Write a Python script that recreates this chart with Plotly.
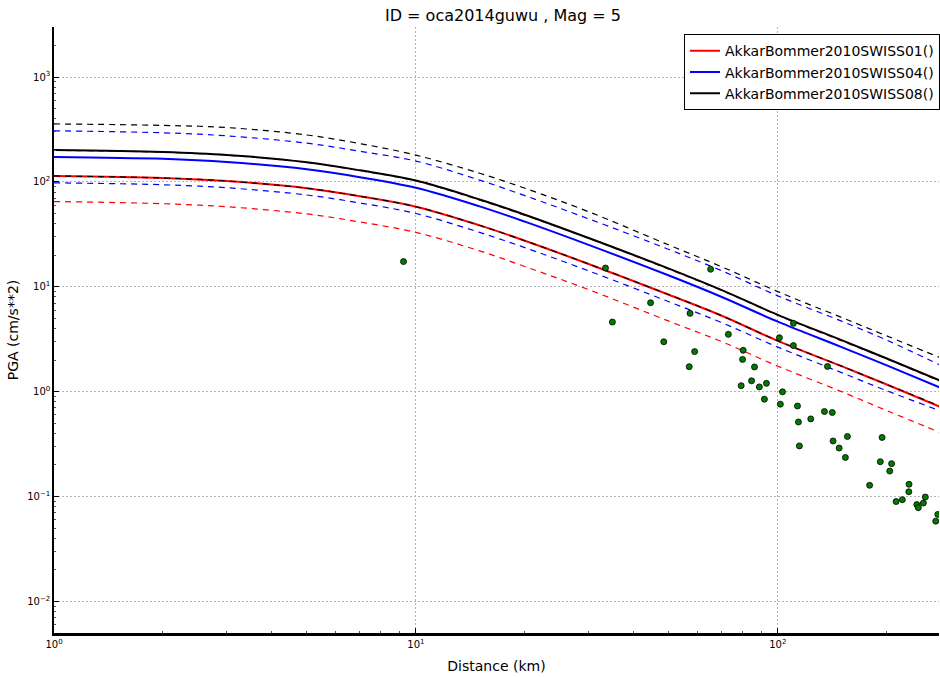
import plotly.graph_objects as go
import math

# ---- data ----
distance_km = [1, 2, 3, 5, 7, 10, 15, 20, 30, 50, 70, 100, 150, 200, 280]

swiss01_median = [114, 109, 102, 87, 73, 58, 38.5, 27.5, 16.5, 8.4, 5.3, 3.05, 1.75, 1.17, 0.72]
swiss01_minus = [65, 62, 58, 49.5, 41.5, 33, 22, 15.6, 9.4, 4.7, 3.0, 1.75, 1.0, 0.66, 0.41]
swiss01_plus = [200, 192, 180, 153, 128, 102, 67, 48, 29, 14.7, 9.2, 5.35, 3.05, 2.05, 1.26]

swiss04_median = [173, 166, 155, 132, 111, 88, 58.5, 41.8, 25.1, 12.8, 8.0, 4.65, 2.66, 1.78, 1.1]
swiss04_minus = [98, 94, 88, 75, 63, 50, 33, 23.6, 14.2, 7.2, 4.55, 2.66, 1.52, 1.02, 0.66]
swiss04_plus = [307, 294, 275, 234, 196, 158, 104, 74, 44.5, 22.7, 14.2, 8.2, 4.7, 3.1, 1.8]

swiss08_median = [202, 193, 181, 154, 129, 103, 68, 48.7, 29.2, 14.9, 9.3, 5.4, 3.1, 2.07, 1.28]
swiss08_minus = [114, 109, 102, 87, 73, 58, 38.5, 27.5, 16.5, 8.4, 5.3, 3.05, 1.75, 1.17, 0.73]
swiss08_plus = [357, 346, 330, 280, 232, 180, 121, 87, 52, 25, 15.5, 9.0, 5.1, 3.4, 2.12]

obs_distance_km = [9.24, 33.4, 34.9, 44.5, 48.4, 57.2, 58.9, 65.2, 73.0, 56.9,
                   80.2, 79.9, 86.2, 79.2, 84.6, 88.9, 93.0, 101, 110.4, 110.4,
                   91.8, 103, 101.6, 113.3, 114, 123.3, 134.5, 141.4, 137.1, 114.7,
                   142.1, 155.7, 147.7, 153.7, 194.1, 191.9, 206.2, 203.8, 179.3, 230.4,
                   230.1, 212.2, 220.8, 255.6, 252.4, 242.1, 244.4, 276.7, 273.1]
obs_pga = [17.4, 15.1, 4.61, 7.05, 2.99, 5.58, 2.41, 14.7, 3.52, 1.73,
           2.48, 2.03, 1.72, 1.14, 1.27, 1.11, 1.20, 3.27, 4.48, 2.75,
           0.848, 0.996, 0.76, 0.73, 0.514, 0.55, 0.647, 0.633, 1.74, 0.304,
           0.339, 0.374, 0.29, 0.236, 0.366, 0.215, 0.206, 0.175, 0.128, 0.131,
           0.111, 0.0896, 0.0934, 0.0989, 0.0867, 0.0839, 0.0783, 0.0676, 0.0583]

model_names = ["AkkarBommer2010SWISS01()", "AkkarBommer2010SWISS04()", "AkkarBommer2010SWISS08()"]
model_colors = ["#ff0000", "#0000ff", "#000000"]
medians = [swiss01_median, swiss04_median, swiss08_median]
minus_sigma = [swiss01_minus, swiss04_minus, swiss08_minus]
plus_sigma = [swiss01_plus, swiss04_plus, swiss08_plus]

title_text = "ID = oca2014guwu , Mag = 5"
x_major = [1, 10, 100]
y_major = [0.01, 0.1, 1, 10, 100, 1000]
x_major_text = ["10<sup>0</sup>", "10<sup>1</sup>", "10<sup>2</sup>"]
y_major_text = ["10<sup>−2</sup>", "10<sup>−1</sup>", "10<sup>0</sup>",
                "10<sup>1</sup>", "10<sup>2</sup>", "10<sup>3</sup>"]
x_lim = [1, 278.8]
y_lim = [0.005, 3000]


def minor_vals(lo_exp, hi_exp):
    out = []
    for e in range(lo_exp, hi_exp + 1):
        for m in range(2, 10):
            out.append(m * 10 ** e)
    return out


FONT = "DejaVu Sans"
fig = go.Figure()

for name, col, med, lo, hi in zip(model_names, model_colors, medians, minus_sigma, plus_sigma):
    fig.add_trace(go.Scatter(x=distance_km, y=med, mode="lines", name=name,
                             line=dict(color=col, width=2), line_shape="spline"))
    fig.add_trace(go.Scatter(x=distance_km, y=lo, mode="lines", showlegend=False,
                             line=dict(color=col, width=1.2, dash="6px,5px"), line_shape="spline"))
    fig.add_trace(go.Scatter(x=distance_km, y=hi, mode="lines", showlegend=False,
                             line=dict(color=col, width=1.2, dash="6px,5px"), line_shape="spline"))

fig.add_trace(go.Scatter(x=obs_distance_km, y=obs_pga, mode="markers", showlegend=False,
                         marker=dict(color="#007a00", size=6, line=dict(color="black", width=0.8))))

grid = dict(showgrid=True, gridcolor="#b5b5b5", gridwidth=1, griddash="2px,2px")

fig.update_layout(
    width=940, height=677,
    margin=dict(l=54, r=0, t=27, b=44),
    paper_bgcolor="white", plot_bgcolor="white",
    font=dict(family=FONT, color="black"),
    title=dict(text=title_text, x=503 / 940, xref="container", xanchor="center",
               y=1 - 15 / 677, yref="container", yanchor="middle",
               font=dict(size=16, family=FONT, color="black")),
    showlegend=True,
    legend=dict(x=0.712, y=0.988, xanchor="left", yanchor="top",
                bordercolor="black", borderwidth=1, bgcolor="white",
                font=dict(size=14, family=FONT)),
    xaxis=dict(type="log", range=[math.log10(x_lim[0]), math.log10(x_lim[1])],
               tickvals=x_major, ticktext=x_major_text, tickfont=dict(size=10),
               ticks="inside", ticklen=5, tickcolor="black",
               showline=True, linecolor="black", linewidth=2.5, mirror=False,
               minor=dict(tickvals=minor_vals(0, 2), ticks="inside", ticklen=2.5, tickcolor="#555"),
               title=dict(text="Distance (km)", font=dict(size=14), standoff=13),
               zeroline=False, **grid),
    yaxis=dict(type="log", range=[math.log10(y_lim[0]), math.log10(y_lim[1])],
               tickvals=y_major, ticktext=y_major_text, tickfont=dict(size=10),
               ticks="inside", ticklen=5, tickcolor="black",
               showline=True, linecolor="black", linewidth=1.5, mirror=False,
               minor=dict(tickvals=minor_vals(-3, 3), ticks="inside", ticklen=2.5, tickcolor="#555"),
               title=dict(text="PGA (cm/s**2)", font=dict(size=14), standoff=5),
               zeroline=False, **grid),
    xaxis2=dict(type="log", overlaying="x", side="top", anchor="y",
                range=[math.log10(x_lim[0]), math.log10(x_lim[1])],
                showticklabels=False, showgrid=False, showline=False, zeroline=False,
                tickvals=x_major, ticks="inside", ticklen=5, tickcolor="#888",
                minor=dict(tickvals=minor_vals(0, 2), ticks="inside", ticklen=2.5, tickcolor="#999")),
)

fig.write_html("out.html")
